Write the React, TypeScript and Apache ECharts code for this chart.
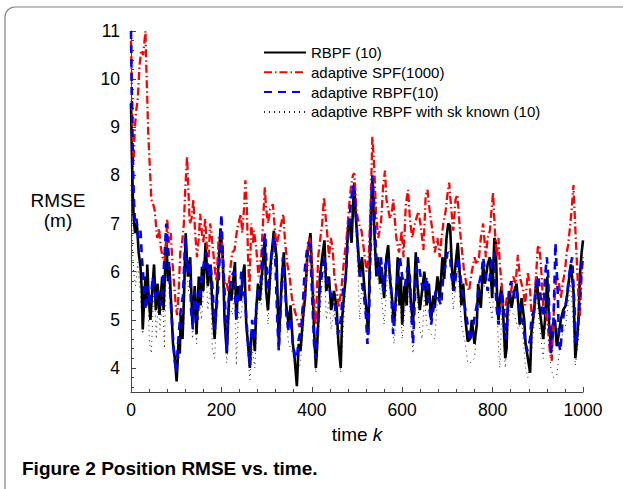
import React, { useEffect, useRef } from "react";
import * as echarts from "echarts";

const SERIES_NAMES = [
  "RBPF (10)",
  "adaptive SPF(1000)",
  "adaptive RBPF(10)",
  "adaptive RBPF with sk known (10)",
];

const RBPF: [number, number][] = [[0,9.5],[2,8.4],[4,7.6],[6,7.1],[9,6.8],[13,7.0],[17,6.4],[21,6.1],[24,5.6],[26,4.8],[29,5.4],[32,5.9],[34,5.3],[36,6.15],[39,5.5],[43,5.0],[47,5.6],[51,6.15],[55,5.2],[59,5.75],[63,5.1],[66,5.5],[69,5.9],[72,5.2],[75,5.9],[78,6.7],[82,5.8],[85,6.1],[89,5.3],[93,4.5],[97,4.2],[101,3.72],[103,4.1],[105,4.5],[108,4.3],[110,5.1],[114,4.6],[117,5.4],[121,6.8],[124,6.2],[126,5.9],[131,6.3],[134,5.4],[136,4.9],[141,5.7],[145,4.7],[150,5.9],[154,5.3],[157,6.1],[160,5.6],[165,6.6],[170,5.7],[176,6.15],[180,5.3],[185,4.6],[190,5.5],[192,5.9],[198,6.9],[203,6.3],[207,5.0],[212,4.3],[215,5.0],[218,5.7],[222,5.4],[226,5.8],[230,6.2],[233,5.0],[237,5.7],[243,5.4],[247,5.9],[251,6.15],[255,4.9],[259,4.5],[263,4.0],[266,4.7],[270,4.8],[274,4.35],[277,5.2],[281,5.75],[285,5.4],[288,5.75],[292,6.2],[296,6.7],[299,5.6],[303,5.2],[306,5.6],[309,6.15],[316,6.85],[322,6.3],[325,5.2],[327,4.5],[330,5.1],[333,5.75],[338,6.4],[344,5.25],[349,4.9],[353,5.3],[358,4.5],[362,4.2],[367,3.62],[371,4.5],[375,4.35],[381,5.1],[385,5.45],[390,6.3],[397,6.8],[401,5.9],[405,4.8],[409,4.0],[411,4.3],[414,4.9],[418,5.9],[423,6.3],[428,6.65],[432,5.6],[438,5.9],[443,5.2],[449,5.6],[455,5.25],[459,4.5],[464,4.0],[467,5.0],[472,5.6],[475,5.85],[480,6.9],[484,7.1],[488,6.6],[491,7.3],[494,7.85],[497,7.2],[500,6.8],[503,6.4],[506,5.9],[511,6.3],[517,5.6],[521,5.2],[525,4.7],[528,6.1],[531,7.3],[534,7.95],[537,7.2],[539,6.7],[543,5.9],[547,6.3],[551,5.75],[554,6.1],[560,5.45],[565,6.3],[569,6.55],[573,5.85],[578,5.4],[582,4.9],[587,5.6],[590,6.3],[594,5.3],[597,5.9],[600,4.9],[605,5.7],[610,5.3],[613,6.3],[619,5.4],[624,4.9],[630,6.4],[634,5.7],[639,5.2],[644,5.6],[649,6.0],[654,5.3],[659,5.75],[664,5.0],[669,5.5],[672,5.25],[678,5.9],[683,5.45],[689,6.3],[693,5.85],[698,6.7],[702,7.0],[706,6.95],[709,6.3],[713,5.6],[718,6.15],[723,6.6],[728,5.85],[731,5.3],[735,5.75],[740,5.0],[745,4.55],[750,4.6],[754,5.0],[760,4.5],[765,4.9],[768,5.75],[774,5.25],[779,6.15],[783,5.75],[789,6.15],[794,6.3],[799,5.45],[804,6.7],[807,6.6],[810,5.45],[813,5.0],[816,5.45],[820,5.7],[824,5.0],[828,4.2],[831,4.4],[833,5.2],[838,5.6],[842,5.25],[848,5.6],[853,5.75],[857,5.3],[860,4.9],[864,5.45],[870,5.0],[873,4.5],[878,4.2],[883,3.9],[886,4.75],[892,5.2],[897,5.9],[903,5.3],[907,5.0],[912,4.6],[916,5.0],[921,5.9],[925,4.9],[929,4.5],[933,4.9],[938,5.0],[942,4.45],[947,4.75],[951,5.0],[956,5.2],[962,5.3],[966,5.6],[973,6.15],[979,5.6],[983,4.2],[986,4.5],[990,5.0],[993,5.9],[997,6.4],[1000,6.65]];

const SPF: [number, number][] = [[0,10.8],[2,9.8],[4,8.6],[6,8.3],[8,8.9],[11,9.3],[15,9.6],[19,10.3],[23,10.6],[27,10.5],[30,10.8],[32,11.0],[34,10.2],[36,9.6],[38,8.9],[41,8.3],[45,7.5],[49,7.4],[52,7.3],[55,7.0],[58,6.7],[62,6.9],[66,6.5],[70,6.3],[74,6.2],[78,6.6],[80,7.1],[84,6.6],[88,6.8],[91,6.3],[95,5.8],[99,5.3],[102,5.1],[105,5.5],[109,6.4],[113,6.6],[117,7.0],[120,7.7],[124,8.4],[127,7.7],[130,7.0],[134,7.1],[138,7.5],[142,6.8],[146,6.3],[150,6.7],[153,7.2],[157,6.8],[160,6.6],[164,7.1],[168,6.5],[172,6.3],[175,7.0],[178,6.8],[182,6.4],[186,6.0],[189,5.8],[194,6.7],[200,6.85],[206,5.75],[211,5.8],[215,5.6],[219,6.0],[224,6.4],[229,6.45],[235,6.9],[243,7.2],[246,6.8],[250,7.3],[253,7.9],[256,7.4],[259,6.3],[262,5.6],[266,7.0],[270,6.6],[272,6.85],[277,6.5],[282,5.9],[288,6.3],[292,7.0],[296,7.75],[299,7.3],[303,7.0],[308,7.3],[314,7.4],[318,6.9],[322,6.55],[329,6.85],[337,7.2],[341,6.6],[346,6.15],[351,5.9],[356,5.45],[362,5.2],[368,5.0],[373,4.85],[378,5.1],[384,5.6],[392,6.6],[395,6.7],[400,6.3],[405,5.3],[409,4.9],[414,6.3],[419,6.7],[423,7.0],[427,7.55],[431,7.1],[434,6.8],[438,6.3],[442,6.7],[446,6.5],[450,5.9],[455,5.6],[460,5.25],[466,5.7],[472,6.3],[477,6.7],[482,7.3],[487,7.8],[491,8.0],[494,8.05],[499,7.25],[504,7.0],[510,6.85],[516,6.4],[521,6.0],[526,6.3],[531,7.67],[534,8.8],[538,8.2],[542,7.25],[547,6.7],[553,7.0],[558,7.8],[562,8.1],[565,7.5],[573,7.1],[578,7.3],[580,7.5],[587,6.7],[593,6.4],[599,6.85],[603,6.3],[608,7.4],[613,7.7],[617,7.1],[622,6.7],[628,7.0],[636,7.25],[641,6.95],[647,6.45],[652,7.6],[656,7.7],[661,7.25],[667,6.85],[672,6.4],[678,6.7],[683,6.3],[687,6.7],[691,7.0],[696,7.25],[700,7.6],[704,7.85],[709,7.25],[713,6.85],[718,7.5],[722,7.6],[728,6.85],[731,6.55],[737,6.0],[742,5.75],[748,5.6],[754,6.0],[760,6.3],[765,6.15],[770,6.3],[774,6.7],[779,7.0],[785,6.3],[789,6.7],[794,6.85],[797,7.2],[801,7.65],[805,6.85],[809,6.3],[813,6.7],[816,6.15],[820,5.75],[824,5.2],[827,5.05],[831,5.45],[836,5.45],[841,5.6],[846,5.9],[851,5.75],[856,6.35],[860,5.9],[868,5.6],[872,5.3],[878,6.0],[883,5.6],[886,5.15],[890,5.05],[894,5.6],[900,6.5],[903,6.55],[907,6.15],[912,5.3],[916,5.2],[922,4.9],[927,4.3],[931,4.15],[934,4.9],[938,5.6],[942,5.9],[947,5.75],[951,5.45],[955,5.75],[960,6.0],[964,6.4],[967,6.55],[971,6.9],[975,7.3],[979,7.8],[982,7.1],[986,6.3],[990,5.45],[993,5.05],[997,5.9],[1000,6.3]];

const ADAPTIVE_RBPF: [number, number][] = [[0,11.0],[2,9.5],[4,8.4],[6,7.6],[9,7.0],[12,7.1],[16,6.7],[21,6.85],[24,6.3],[28,5.8],[32,5.2],[37,5.7],[43,5.3],[48,5.9],[55,5.4],[60,5.6],[67,5.3],[71,5.8],[74,6.3],[78,7.0],[83,6.4],[89,5.2],[96,4.2],[100,3.9],[104,4.5],[110,5.2],[115,5.5],[120,6.7],[125,6.0],[130,6.2],[133,5.2],[137,4.8],[141,5.6],[147,5.0],[152,5.6],[157,5.9],[163,6.3],[167,6.4],[172,5.9],[176,6.15],[181,5.6],[185,4.8],[189,5.2],[194,5.8],[200,7.2],[203,6.4],[207,5.6],[212,4.35],[216,5.4],[222,5.9],[228,6.0],[233,5.0],[237,5.6],[240,5.4],[244,6.0],[248,5.5],[251,5.6],[259,4.5],[263,4.05],[268,5.0],[272,4.55],[277,5.25],[281,5.6],[287,5.8],[292,6.55],[297,6.8],[299,6.3],[303,5.6],[307,6.0],[310,6.3],[316,6.7],[319,6.3],[324,4.9],[327,4.35],[331,5.25],[336,6.3],[340,5.9],[344,5.05],[349,4.75],[353,5.05],[358,4.5],[364,4.2],[367,4.2],[371,4.6],[375,4.75],[379,5.05],[384,6.0],[388,6.35],[392,6.6],[396,6.55],[399,5.9],[405,4.5],[409,4.2],[413,4.8],[418,5.6],[423,6.0],[429,6.3],[435,5.7],[440,5.6],[445,5.45],[451,5.3],[455,4.9],[458,4.7],[464,5.0],[469,5.6],[475,5.9],[480,6.7],[486,7.4],[491,7.8],[495,7.5],[499,7.0],[503,6.3],[508,5.9],[514,5.6],[519,5.2],[523,4.5],[527,5.2],[531,7.0],[534,8.0],[538,7.4],[542,6.4],[547,5.9],[553,6.3],[558,5.6],[563,6.15],[569,6.3],[575,5.75],[580,4.7],[584,5.2],[590,5.9],[595,6.3],[600,5.9],[606,5.7],[612,6.1],[617,5.9],[621,5.0],[624,4.5],[630,5.9],[634,6.3],[639,6.0],[644,5.7],[649,5.6],[654,5.9],[658,5.45],[664,4.9],[669,5.2],[674,5.6],[680,5.45],[686,5.3],[691,5.9],[696,6.15],[700,6.4],[706,6.3],[709,5.9],[715,5.6],[720,6.0],[724,6.3],[730,5.8],[735,5.45],[739,5.25],[745,4.9],[750,4.55],[755,4.75],[760,5.05],[765,5.3],[770,5.75],[776,6.0],[779,6.3],[785,5.9],[789,5.6],[794,5.9],[799,6.3],[804,6.4],[805,5.9],[809,5.25],[813,4.9],[816,5.25],[820,5.6],[824,5.3],[829,4.6],[833,5.05],[836,5.6],[841,5.8],[846,5.6],[849,5.45],[853,5.6],[857,5.4],[863,5.05],[868,4.9],[872,4.55],[877,4.35],[883,4.6],[886,5.05],[892,5.2],[897,5.75],[901,5.9],[905,5.6],[908,5.3],[912,5.05],[916,5.9],[920,6.3],[923,5.9],[927,4.55],[929,4.3],[934,4.75],[938,6.15],[939,6.6],[944,5.6],[947,4.5],[950,4.35],[954,4.9],[959,5.2],[964,5.45],[969,5.9],[973,6.15],[976,6.3],[981,5.3],[984,4.5],[988,4.75],[993,5.45],[997,6.15],[1000,6.3]];

const SK_KNOWN: [number, number][] = [[0,7.8],[3,6.5],[6,6.0],[10,5.7],[15,6.2],[20,5.6],[26,4.7],[32,5.5],[36,5.8],[41,4.5],[45,4.3],[51,5.8],[56,4.6],[60,5.4],[64,4.8],[70,5.5],[74,4.4],[78,6.2],[84,5.6],[90,4.8],[96,4.2],[101,3.85],[106,4.2],[112,4.8],[117,4.9],[121,6.4],[127,5.6],[131,5.8],[136,4.6],[141,5.3],[145,4.5],[150,5.5],[156,5.0],[165,6.2],[170,5.2],[176,5.7],[180,4.4],[185,4.2],[192,5.6],[198,6.6],[203,5.8],[207,4.8],[212,4.1],[218,5.3],[224,5.1],[230,5.8],[233,4.05],[238,5.2],[243,5.0],[251,5.8],[255,4.7],[263,3.75],[268,4.4],[274,4.0],[281,5.4],[288,5.3],[296,6.4],[303,4.9],[309,5.8],[316,6.5],[322,5.9],[327,4.4],[333,5.4],[338,6.0],[344,4.9],[349,4.5],[358,4.3],[367,3.85],[375,4.1],[381,4.8],[390,5.9],[397,6.4],[405,4.5],[409,3.9],[414,4.6],[423,5.8],[428,6.1],[432,5.0],[438,5.4],[443,4.8],[449,5.2],[455,4.8],[464,3.9],[472,5.2],[480,6.5],[487,7.2],[494,7.4],[500,6.4],[506,5.0],[511,5.8],[517,5.2],[525,4.5],[534,7.4],[539,6.2],[547,5.8],[554,5.5],[560,4.9],[569,6.1],[578,4.9],[582,4.5],[593,5.9],[600,4.6],[605,5.1],[613,5.8],[619,4.9],[624,4.3],[630,5.9],[639,4.8],[644,4.6],[649,5.5],[654,4.9],[664,4.7],[672,4.6],[678,5.4],[689,5.8],[698,6.2],[706,6.5],[713,5.2],[723,6.1],[731,4.9],[740,4.5],[745,4.1],[750,4.1],[760,4.2],[768,5.2],[779,5.7],[789,5.7],[799,5.0],[806,6.2],[813,4.4],[816,4.0],[820,5.2],[828,4.0],[838,5.2],[848,5.1],[857,4.8],[864,5.0],[873,4.0],[878,3.8],[886,4.3],[897,5.5],[907,4.6],[912,4.2],[921,5.4],[929,4.0],[935,3.8],[942,3.85],[951,4.6],[962,4.9],[973,5.8],[983,4.05],[990,4.6],[997,5.9],[1000,6.2]];

const X_MIN = 0;
const X_MAX = 1000;
const X_INTERVAL = 200;
const Y_MIN = 3.5;
const Y_MAX = 11;

const FONT = "'Liberation Sans', Arial, Helvetica, sans-serif";

export default function App() {
  const ref = useRef<HTMLDivElement>(null);

  useEffect(() => {
    if (!ref.current) return;
    const chart = echarts.init(ref.current, null, { renderer: "svg" });
    const axisColor = "#444";
    chart.setOption({
      animation: false,
      backgroundColor: "#fff",
      textStyle: { fontFamily: FONT },
      grid: { left: 131, right: 40, top: 31, bottom: 97, containLabel: false },
      legend: {
        orient: "vertical",
        left: 263,
        top: 45,
        padding: 0,
        itemWidth: 42,
        itemHeight: 14,
        itemGap: 4.8,
        data: SERIES_NAMES,
        itemStyle: { opacity: 0 },
        textStyle: { fontSize: 15, color: "#000", fontFamily: FONT },
      },
      xAxis: {
        type: "value",
        min: X_MIN,
        max: X_MAX,
        interval: X_INTERVAL,
        name: "{n|time }{i|k}",
        nameLocation: "middle",
        nameGap: 33,
        nameTextStyle: {
          rich: {
            n: { fontSize: 19, color: "#000", fontFamily: FONT },
            i: { fontSize: 19, color: "#000", fontStyle: "italic", fontFamily: FONT },
          },
        },
        axisLine: { lineStyle: { color: axisColor, width: 1 } },
        axisTick: { inside: true, length: 5, lineStyle: { color: axisColor } },
        minorTick: { show: true, splitNumber: 5, length: 3, lineStyle: { color: axisColor } },
        axisLabel: {
          fontSize: 17.5,
          color: "#000",
          margin: 9,
          fontFamily: FONT,
          formatter: (v: number) => String(v),
        },
        splitLine: { show: false },
      },
      yAxis: {
        type: "value",
        min: Y_MIN,
        max: Y_MAX,
        splitNumber: 7,
        axisLine: { show: true, lineStyle: { color: axisColor, width: 1 } },
        axisTick: { show: true, inside: true, length: 5, lineStyle: { color: axisColor } },
        minorTick: { show: true, splitNumber: 5, length: 3, lineStyle: { color: axisColor } },
        axisLabel: {
          fontSize: 17.5,
          color: "#000",
          margin: 11,
          fontFamily: FONT,
          formatter: (v: number) => (Math.abs(v - Math.round(v)) < 1e-6 ? String(Math.round(v)) : ""),
        },
        splitLine: { show: false },
      },
      graphic: [
        {
          type: "rect",
          shape: { x: 5, y: 7, width: 700, height: 600, r: 10 },
          style: { fill: "none", stroke: "#808080", lineWidth: 1.2 },
          silent: true,
          z: -10,
        },
        {
          type: "text",
          x: 58,
          y: 210,
          style: {
            text: "RMSE\n(m)",
            font: `19px ${FONT}`,
            fill: "#000",
            align: "center",
            verticalAlign: "middle",
            lineHeight: 20,
          },
        },
        {
          type: "text",
          x: 22,
          y: 468,
          style: {
            text: "Figure 2 Position RMSE vs. time.",
            font: `bold 19px ${FONT}`,
            fill: "#000",
            align: "left",
            verticalAlign: "middle",
          },
        },
      ],
      series: [
        {
          name: SERIES_NAMES[0],
          type: "line",
          data: RBPF,
          showSymbol: false,
          symbol: "none",
          lineStyle: { color: "#000", width: 2.6, type: "solid" },
          itemStyle: { color: "#000" },
        },
        {
          name: SERIES_NAMES[1],
          type: "line",
          data: SPF,
          showSymbol: false,
          symbol: "none",
          lineStyle: { color: "#ff0000", width: 2.3, type: [8, 3, 1.5, 3] },
          itemStyle: { color: "#ff0000" },
        },
        {
          name: SERIES_NAMES[2],
          type: "line",
          data: ADAPTIVE_RBPF,
          showSymbol: false,
          symbol: "none",
          lineStyle: { color: "#0000ff", width: 2.6, type: [8, 6] },
          itemStyle: { color: "#0000ff" },
        },
        {
          name: SERIES_NAMES[3],
          type: "line",
          data: SK_KNOWN,
          showSymbol: false,
          symbol: "none",
          lineStyle: { color: "#222", width: 1, type: [1, 4] },
          itemStyle: { color: "#222" },
        },
      ],
    });
    return () => chart.dispose();
  }, []);

  return <div ref={ref} style={{ width: 623, height: 489, position: "absolute", left: 0, top: 0 }} />;
}
